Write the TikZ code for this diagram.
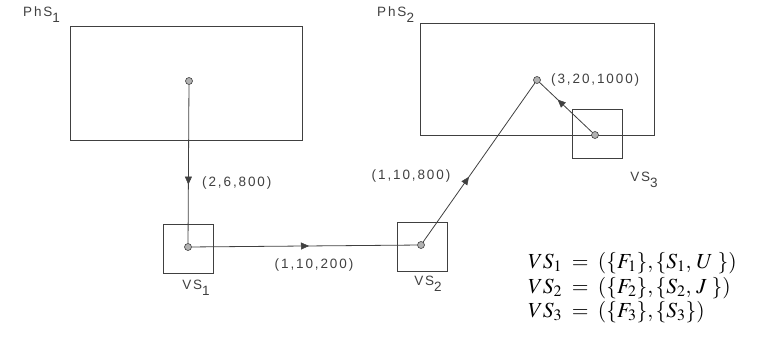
\documentclass[tikz,border=0pt]{standalone}
\usepackage{mathptmx}
\usepackage{fontspec}
\setmainfont{Liberation Serif}
\newfontfamily\lblfont[LetterSpace=14]{Liberation Sans}
\usetikzlibrary{arrows.meta,decorations.markings}
\definecolor{ink}{gray}{0.25}
\tikzset{
  x=1pt,y=-1pt,
  space/.style={draw=ink,line width=1pt,inner sep=0pt},
  vsbox/.style={draw=ink,line width=1pt,inner sep=0pt,minimum width=50pt,minimum height=49pt},
  dot/.style={circle,fill=gray!60,draw=ink,line width=0.6pt,inner sep=0pt,minimum size=7pt},
  lbl/.style={text=ink,font=\lblfont\fontsize{13.5}{15}\selectfont,inner sep=1pt},
  eq/.style={anchor=base west,inner sep=0pt,font=\fontsize{21.5}{24}\selectfont},
  flow/.style={draw=ink,line width=0.8pt,postaction={decorate},
    decoration={markings,mark=at position #1 with {\arrow[fill=gray!60,draw=ink,line width=0.5pt]{Triangle[width=7pt,length=8pt]}}}},
}
\begin{document}
\begin{tikzpicture}
\useasboundingbox (0,0) rectangle (760,343);
% physical spaces
\node[space,anchor=north west,minimum width=232pt,minimum height=114pt] (phs1) at (70,26) {};
\node[space,anchor=north west,minimum width=234pt,minimum height=112pt] (phs2) at (420,23) {};
\node[lbl,anchor=west] (phs1l) at (22,15) {PhS\raisebox{-6pt}{1}};
\node[lbl,anchor=west] (phs2l) at (376,15) {PhS\raisebox{-6pt}{2}};
% virtual space boxes
\node[vsbox] (vs1) at (188.5,248.5) {};
\node[vsbox] (vs2) at (422.5,246.5) {};
\node[vsbox] (vs3) at (597,133.5) {};
% dots
\node[dot] (p1) at (189,81) {};
\node[dot] (d1) at (188,247) {};
\node[dot] (d2) at (421,245) {};
\node[dot] (p2) at (537,80) {};
\node[dot] (d3) at (595,135) {};
% flows
\draw[flow=0.63] (p1) -- (d1);
\draw[flow=0.52] (d1) -- (d2);
\draw[flow=0.41] (d2) -- (p2);
\draw[flow=0.66] (d3) -- (p2);
% labels
\node[lbl,anchor=west] (l1) at (201,183) {(2,6,800)};
\node[lbl] (l2) at (314,265) {(1,10,200)};
\node[lbl] (l3) at (411,176) {(1,10,800)};
\node[lbl,anchor=west] (l4) at (550,80) {(3,20,1000)};
\node[lbl] (n1) at (196,288) {VS\raisebox{-6pt}{1}};
\node[lbl] (n2) at (428,284) {VS\raisebox{-6pt}{2}};
\node[lbl] (n3) at (644,180) {VS\raisebox{-6pt}{3}};
% definitions
\node[eq] (eq1) at (528,268) {$VS_1\;=\;(\{F_1\},\{S_1,\,U\;\})$};
\node[eq] (eq2) at (528,293) {$VS_2\;=\;(\{F_2\},\{S_2,\,J\;\})$};
\node[eq] (eq3) at (528,317) {$VS_3\;=\;(\{F_3\},\{S_3\})$};
\end{tikzpicture}
\end{document}
